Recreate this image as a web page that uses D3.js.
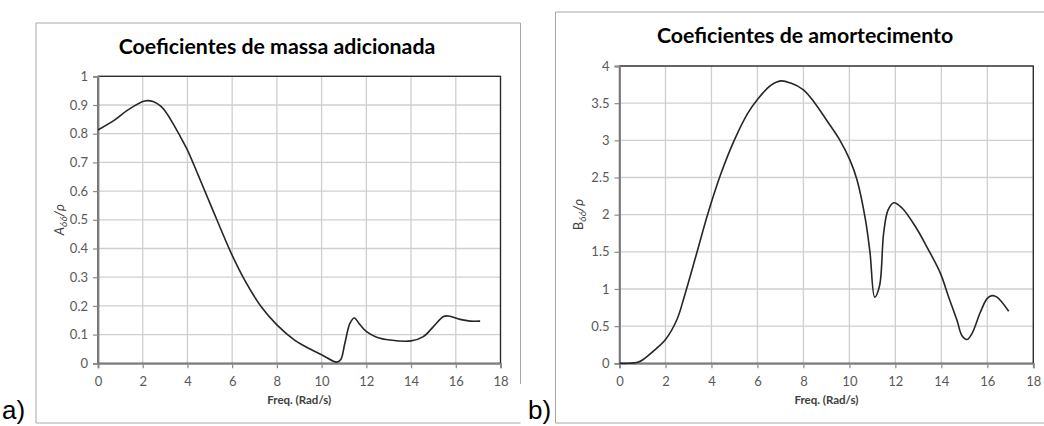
<!DOCTYPE html>
<html>
<head>
<meta charset="utf-8">
<script src="https://cdn.jsdelivr.net/npm/d3@7"></script>
<style>
  html, body { margin: 0; padding: 0; background: #fff; }
  svg { display: block; }
  text { font-family: Lato, "Open Sans", sans-serif; }
</style>
</head>
<body>
<svg id="chart" width="1044" height="426"></svg>
<script>
// ---- Data ----
const xTicks = [0, 2, 4, 6, 8, 10, 12, 14, 16, 18];

const titleA = "Coeficientes de massa adicionada";
const freqA = [0, 0.75, 1.34, 2.09, 2.46, 2.83, 3.1, 3.35, 3.61, 4.0, 4.5, 5.07, 5.96, 6.56, 7.3, 8.0, 8.79, 9.33, 10.0, 10.67, 10.85, 11.04, 11.27, 11.46, 11.72, 12.01, 12.46, 13.06, 13.99, 14.55, 15.0, 15.45, 15.67, 16.19, 16.64, 17.09];
const valuesA = [0.813, 0.848, 0.883, 0.914, 0.912, 0.894, 0.868, 0.836, 0.800, 0.743, 0.652, 0.546, 0.383, 0.290, 0.197, 0.134, 0.081, 0.056, 0.030, 0.004, 0.012, 0.070, 0.140, 0.158, 0.134, 0.110, 0.091, 0.081, 0.078, 0.093, 0.128, 0.163, 0.165, 0.153, 0.147, 0.147];
const yTicksA = [0, 0.1, 0.2, 0.3, 0.4, 0.5, 0.6, 0.7, 0.8, 0.9, 1];

const titleB = "Coeficientes de amortecimento";
const freqB = [0, 0.36, 0.8, 1.0, 1.5, 2.0, 2.5, 2.82, 3.33, 3.84, 4.41, 4.99, 5.57, 6.0, 6.58, 7.02, 7.45, 8.0, 8.5, 9.01, 9.59, 10.03, 10.33, 10.70, 10.9, 11.1, 11.31, 11.49, 11.68, 11.93, 12.29, 12.87, 13.45, 13.96, 14.32, 14.68, 14.9, 15.12, 15.33, 15.70, 15.99, 16.2, 16.42, 16.93];
const valuesB = [0, 0, 0.015, 0.045, 0.17, 0.32, 0.59, 0.90, 1.45, 2.01, 2.55, 3.0, 3.36, 3.55, 3.74, 3.80, 3.77, 3.68, 3.50, 3.27, 3.0, 2.73, 2.47, 1.93, 1.48, 0.89, 1.04, 1.75, 2.06, 2.16, 2.09, 1.84, 1.52, 1.21, 0.89, 0.58, 0.37, 0.32, 0.40, 0.69, 0.87, 0.91, 0.89, 0.70];
const yTicksB = [0, 0.5, 1, 1.5, 2, 2.5, 3, 3.5, 4];

const xLabel = "Freq. (Rad/s)";

// ---- Drawing ----
const svg = d3.select("#chart");

function drawPanel(cfg) {
  const g = svg.append("g");
  const fr = cfg.frame;
  const frameStroke = "#a6a6a6";
  g.append("line").attr("x1", fr.x0).attr("y1", fr.y0).attr("x2", fr.x1).attr("y2", fr.y0).attr("stroke", frameStroke);
  g.append("line").attr("x1", fr.x0).attr("y1", fr.y0).attr("x2", fr.x0).attr("y2", fr.y1).attr("stroke", frameStroke);
  g.append("line").attr("x1", fr.x0).attr("y1", fr.y1).attr("x2", fr.x1).attr("y2", fr.y1).attr("stroke", frameStroke);
  if (fr.rightEnd) {
    g.append("line").attr("x1", fr.x1).attr("y1", fr.y0).attr("x2", fr.x1).attr("y2", fr.rightEnd).attr("stroke", frameStroke);
  }

  const x = d3.scaleLinear().domain([0, 18]).range([cfg.plot.left, cfg.plot.right]);
  const y = d3.scaleLinear().domain(cfg.yDomain).range([cfg.plot.bottom, cfg.plot.top]);

  g.append("g").selectAll("line").data(xTicks.slice(1)).join("line")
    .attr("x1", d => x(d)).attr("x2", d => x(d))
    .attr("y1", cfg.plot.top).attr("y2", cfg.plot.bottom)
    .attr("stroke", "#cfcfcf").attr("stroke-width", 1.3);
  g.append("g").selectAll("line").data(cfg.yTicks.slice(1)).join("line")
    .attr("x1", cfg.plot.left).attr("x2", cfg.plot.right)
    .attr("y1", d => y(d)).attr("y2", d => y(d))
    .attr("stroke", "#cfcfcf").attr("stroke-width", 1.3);

  g.append("rect")
    .attr("x", cfg.plot.left).attr("y", cfg.plot.top)
    .attr("width", cfg.plot.right - cfg.plot.left)
    .attr("height", cfg.plot.bottom - cfg.plot.top)
    .attr("fill", "none").attr("stroke", "#262626").attr("stroke-width", 1.3);

  const xAxis = d3.axisBottom(x).tickValues(xTicks).tickSize(5).tickPadding(8).tickFormat(d3.format("d"));
  const yAxis = d3.axisLeft(y).tickValues(cfg.yTicks).tickSize(5).tickPadding(5).tickFormat(d => String(d));

  const gx = g.append("g").attr("transform", `translate(0,${cfg.plot.bottom})`).call(xAxis);
  const gy = g.append("g").attr("transform", `translate(${cfg.plot.left},0)`).call(yAxis);
  [gx, gy].forEach(ax => {
    ax.select(".domain").attr("stroke", "#7f7f7f").attr("stroke-width", 1.8);
    ax.selectAll(".tick line").attr("stroke", "#8a8a8a").attr("stroke-width", 1.2);
    ax.selectAll(".tick text").attr("fill", "#595959").style("font-size", "13px").style("font-family", "Lato, 'Open Sans', sans-serif");
  });

  const line = d3.line()
    .x(d => x(d[0])).y(d => y(d[1]))
    .curve(d3.curveCatmullRom.alpha(0.5));
  g.append("path")
    .datum(cfg.freq.map((f, i) => [f, cfg.values[i]]))
    .attr("d", line)
    .attr("fill", "none").attr("stroke", "#262626").attr("stroke-width", 1.6);

  g.append("text")
    .attr("x", cfg.titleX).attr("y", cfg.titleY)
    .attr("text-anchor", "middle")
    .style("font-size", "21.3px").style("font-weight", "bold").attr("fill", "#000")
    .text(cfg.title);

  g.append("text")
    .attr("x", (cfg.plot.left + cfg.plot.right) / 2).attr("y", 404)
    .attr("text-anchor", "middle")
    .style("font-size", "11.5px").style("font-weight", "bold").attr("fill", "#404040")
    .text(xLabel);

  const yl = g.append("text")
    .attr("transform", `translate(${cfg.yLabelX},${(cfg.plot.top + cfg.plot.bottom) / 2}) rotate(-90)`)
    .attr("text-anchor", "middle")
    .style("font-size", "13px").attr("fill", "#404040");
  yl.append("tspan").style("font-style", cfg.letterItalic ? "italic" : "normal").text(cfg.letter);
  yl.append("tspan").attr("dy", 3).style("font-size", "10px").style("font-style", "italic").text("66");
  yl.append("tspan").attr("dy", -3).style("font-style", "italic").text("/ρ");

  svg.append("text")
    .attr("x", cfg.panelX).attr("y", 419)
    .style("font-family", "'Liberation Sans', Arial, sans-serif")
    .style("font-size", "26px").attr("fill", "#000")
    .text(cfg.panel);
}

drawPanel({
  frame: { x0: 36, y0: 23, x1: 520.5, y1: 423, rightEnd: 384 },
  plot: { left: 98, right: 500.5, top: 76.3, bottom: 363.3 },
  yDomain: [0, 1], yTicks: yTicksA,
  freq: freqA, values: valuesA,
  title: titleA, titleX: 277, titleY: 54,
  yLabelX: 64, letter: "A", letterItalic: true,
  panel: "a)", panelX: 2
});

drawPanel({
  frame: { x0: 555.5, y0: 12, x1: 1050, y1: 423, rightEnd: null },
  plot: { left: 619.5, right: 1033.3, top: 66, bottom: 363.3 },
  yDomain: [0, 4], yTicks: yTicksB,
  freq: freqB, values: valuesB,
  title: titleB, titleX: 805, titleY: 42.5,
  yLabelX: 583, letter: "B", letterItalic: false,
  panel: "b)", panelX: 528
});
</script>
</body>
</html>
